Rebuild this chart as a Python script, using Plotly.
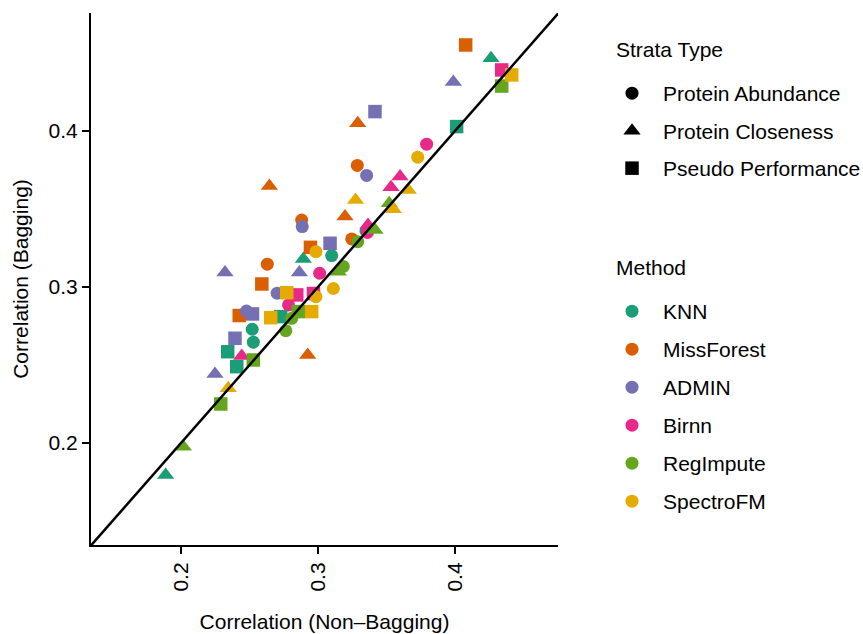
import plotly.graph_objects as go

methods = ["KNN", "MissForest", "ADMIN", "Birnn", "RegImpute", "SpectroFM"]
method_colors = ["#1B9E77", "#D95F02", "#7570B3", "#E7298A", "#66A61E", "#E6AB02"]
strata = ["Protein Abundance", "Protein Closeness", "Pseudo Performance"]
strata_symbols = ["circle", "triangle-up", "square"]

# Correlation values (x: Non-Bagging, y: Bagging) and strata type per point
knn_x = [0.2520, 0.2528, 0.3100, 0.3350, 0.1888, 0.2893, 0.4263, 0.2341, 0.2407, 0.2728, 0.4012]
knn_y = [0.2729, 0.2646, 0.3201, 0.3359, 0.1795, 0.3179, 0.4466, 0.2585, 0.2489, 0.2810, 0.4028]
knn_s = ["Protein Abundance"] * 4 + ["Protein Closeness"] * 3 + ["Pseudo Performance"] * 4

missforest_x = [0.2881, 0.3287, 0.2630, 0.3246, 0.3290, 0.2645, 0.3197, 0.2925, 0.4078, 0.2945, 0.2590, 0.2425]
missforest_y = [0.3429, 0.3779, 0.3146, 0.3308, 0.4049, 0.3647, 0.3451, 0.2564, 0.4551, 0.3254, 0.3019, 0.2817]
missforest_s = ["Protein Abundance"] * 4 + ["Protein Closeness"] * 4 + ["Pseudo Performance"] * 4

admin_x = [0.2885, 0.3355, 0.2702, 0.2478, 0.3988, 0.2321, 0.2864, 0.2248, 0.3416, 0.3088, 0.2522, 0.2394]
admin_y = [0.3387, 0.3715, 0.2960, 0.2846, 0.4314, 0.3092, 0.3092, 0.2442, 0.4124, 0.3280, 0.2827, 0.2671]
admin_s = ["Protein Abundance"] * 4 + ["Protein Closeness"] * 4 + ["Pseudo Performance"] * 4

birnn_x = [0.3793, 0.3012, 0.2785, 0.3361, 0.3599, 0.3533, 0.3365, 0.2443, 0.4341, 0.2845, 0.2967]
birnn_y = [0.3915, 0.3088, 0.2885, 0.3349, 0.3708, 0.3639, 0.3397, 0.2558, 0.4391, 0.2949, 0.2958]
birnn_s = ["Protein Abundance"] * 4 + ["Protein Closeness"] * 4 + ["Pseudo Performance"] * 3

regimpute_x = [0.3290, 0.3185, 0.2808, 0.2765, 0.3416, 0.3520, 0.3148, 0.2017, 0.4341, 0.2856, 0.2528, 0.2290]
regimpute_y = [0.3290, 0.3131, 0.2799, 0.2720, 0.3365, 0.3537, 0.3098, 0.1976, 0.4288, 0.2842, 0.2532, 0.2250]
regimpute_s = ["Protein Abundance"] * 4 + ["Protein Closeness"] * 4 + ["Pseudo Performance"] * 4

spectrofm_x = [0.3728, 0.2985, 0.3112, 0.2985, 0.3659, 0.3274, 0.3550, 0.2345, 0.4414, 0.2772, 0.2655, 0.2954]
spectrofm_y = [0.3832, 0.3226, 0.2990, 0.2938, 0.3622, 0.3558, 0.3498, 0.2351, 0.4359, 0.2963, 0.2803, 0.2842]
spectrofm_s = ["Protein Abundance"] * 4 + ["Protein Closeness"] * 4 + ["Pseudo Performance"] * 4

x_ticks = [0.2, 0.3, 0.4]
y_ticks = [0.2, 0.3, 0.4]
x_range = [0.1343, 0.4752]
y_range = [0.1346, 0.4756]

all_x = [knn_x, missforest_x, admin_x, birnn_x, regimpute_x, spectrofm_x]
all_y = [knn_y, missforest_y, admin_y, birnn_y, regimpute_y, spectrofm_y]
all_s = [knn_s, missforest_s, admin_s, birnn_s, regimpute_s, spectrofm_s]

sym_map = dict(zip(strata, strata_symbols))
size_map = {"circle": 13, "triangle-up": 15, "square": 13.5}

FONT = "Liberation Sans, Arial, Helvetica, sans-serif"
FS = 21
fig = go.Figure()

for m, col, xs, ys, ss in zip(methods, method_colors, all_x, all_y, all_s):
    syms = [sym_map[s] for s in ss]
    fig.add_trace(go.Scatter(
        x=xs, y=ys, mode="markers", name=m, showlegend=False,
        marker=dict(color=col, symbol=syms, size=[size_map[s] for s in syms],
                    opacity=1, line=dict(width=0)),
    ))

# identity line
fig.add_trace(go.Scatter(x=[0, 1], y=[0, 1], mode="lines", showlegend=False,
                         line=dict(color="black", width=2.5), hoverinfo="skip"))

# legend entries: strata
for s, sym in zip(strata, strata_symbols):
    fig.add_trace(go.Scatter(x=[None], y=[None], mode="markers", name=s,
                             legend="legend", legendgroup="s_" + s,
                             marker=dict(color="black", symbol=sym, size=size_map[sym], opacity=1)))
# legend entries: method
for m, col in zip(methods, method_colors):
    fig.add_trace(go.Scatter(x=[None], y=[None], mode="markers", name=m,
                             legend="legend2", legendgroup="m_" + m,
                             marker=dict(color=col, symbol="circle", size=13, opacity=1)))

axis_common = dict(showline=True, linecolor="black", linewidth=2, ticks="outside",
                   ticklen=7, tickwidth=2, tickcolor="black", showgrid=False,
                   zeroline=False, mirror=False,
                   tickfont=dict(family=FONT, size=FS, color="black"))

fig.update_layout(
    width=863, height=634,
    margin=dict(l=91, r=305, t=13, b=89, autoexpand=False),
    paper_bgcolor="white", plot_bgcolor="white",
    font=dict(family=FONT, size=FS, color="black"),
    xaxis=dict(range=x_range, tickvals=x_ticks, ticktext=[str(v) for v in x_ticks],
               tickangle=-90, title=dict(text="Correlation (Non\u2013Bagging)",
                                          font=dict(size=FS), standoff=24),
               **axis_common),
    yaxis=dict(range=y_range, tickvals=y_ticks, ticktext=[str(v) for v in y_ticks],
               title=dict(text="Correlation (Bagging)", font=dict(size=FS), standoff=14),
               **axis_common),
    legend=dict(x=1.0921, y=0.8872, xanchor="left", yanchor="top",
                font=dict(size=FS), itemwidth=52, tracegroupgap=7.2,
                bgcolor="rgba(0,0,0,0)"),
    legend2=dict(x=1.0921, y=0.4774, xanchor="left", yanchor="top",
                 font=dict(size=FS), itemwidth=52, tracegroupgap=7.7,
                 bgcolor="rgba(0,0,0,0)"),
    annotations=[
        dict(text="Strata Type", x=1.1199, y=0.9305, xref="paper", yref="paper",
             xanchor="left", yanchor="middle", showarrow=False, font=dict(size=FS)),
        dict(text="Method", x=1.1199, y=0.5207, xref="paper", yref="paper",
             xanchor="left", yanchor="middle", showarrow=False, font=dict(size=FS)),
    ],
)

fig.write_html("out.html")
